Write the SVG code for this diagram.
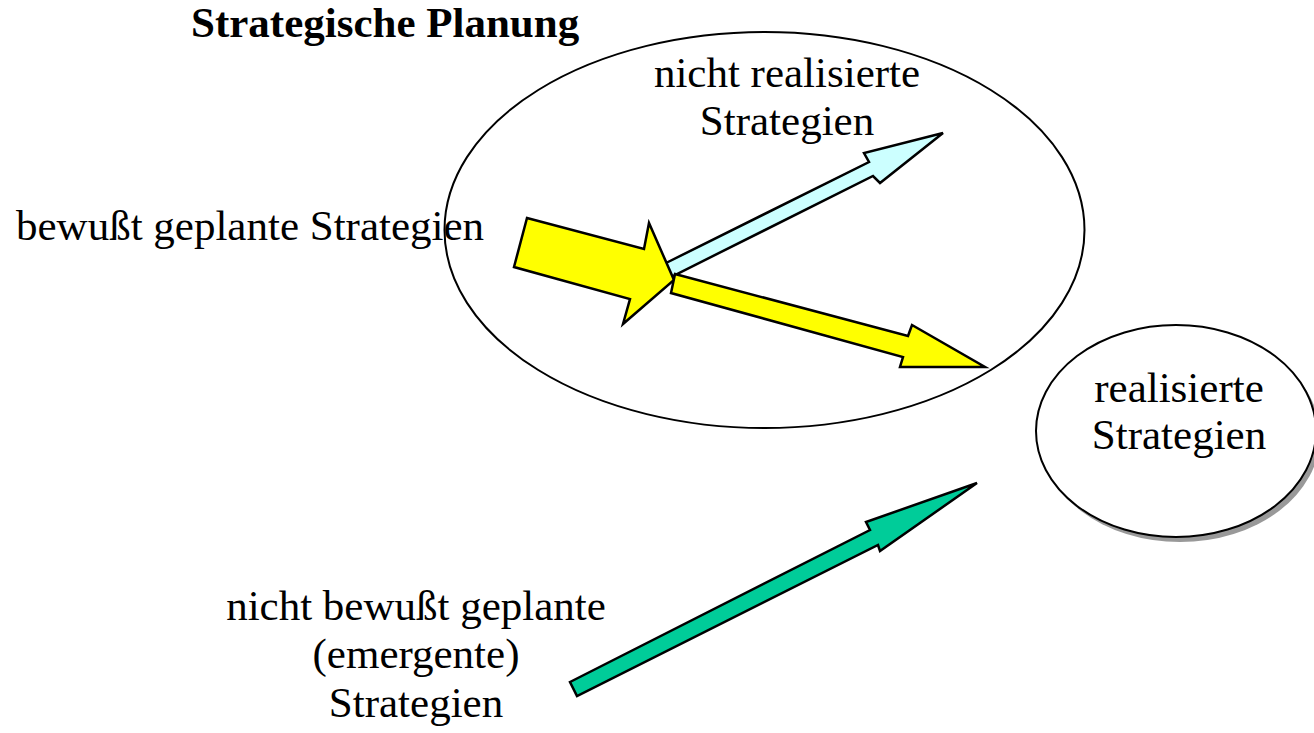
<svg xmlns="http://www.w3.org/2000/svg" width="1314" height="733" viewBox="0 0 1314 733">
  <defs>
    <style>
      .lbl { font-family: "Liberation Serif", "Times New Roman", serif; font-size: 43px; fill: #000; }
      .title { font-family: "Liberation Serif", "Times New Roman", serif; font-size: 43px; font-weight: bold; fill: #000; }
      .outline { fill: #fff; stroke: #000; stroke-width: 2; }
      .arrow { stroke: #000; stroke-width: 2.5; stroke-linejoin: miter; }
    </style>
  </defs>
  <rect width="1314" height="733" fill="#fff"/>

  <!-- planning area -->
  <g id="planung">
    <ellipse class="outline" cx="764.5" cy="230" rx="320" ry="198"/>
    <text class="title" x="191" y="37">Strategische Planung</text>
  </g>

  <!-- realized strategies -->
  <g id="realisiert">
    <ellipse cx="1180" cy="436" rx="140" ry="106" fill="#999"/>
    <ellipse class="outline" cx="1176" cy="431" rx="140" ry="106"/>
    <text class="lbl" x="1179" y="402" text-anchor="middle">realisierte</text>
    <text class="lbl" x="1179" y="449" text-anchor="middle">Strategien</text>
  </g>

  <g id="label-nicht-realisiert">
    <text class="lbl" x="787" y="87" text-anchor="middle">nicht realisierte</text>
    <text class="lbl" x="787" y="135" text-anchor="middle">Strategien</text>
  </g>

  <g id="label-bewusst">
    <text class="lbl" x="16" y="240">bewußt geplante Strategien</text>
  </g>

  <g id="label-emergent">
    <text class="lbl" x="416" y="620" text-anchor="middle">nicht bewußt geplante</text>
    <text class="lbl" x="416" y="668" text-anchor="middle">(emergente)</text>
    <text class="lbl" x="416" y="717" text-anchor="middle">Strategien</text>
  </g>

  <!-- block arrows -->
  <g id="connectors">
    <polygon class="arrow" fill="#ccffff" points="664,264 869,162 864,153 943,133 880,183 873,176 671,277"/>
    <polygon class="arrow" fill="#ffff00" points="527,218 644,249 649,223 674,280 623,324 630,299 514,267"/>
    <polygon class="arrow" fill="#ffff00" points="675,274 908,336 912,325 985,367 900,367 903,357 671,293"/>
    <polygon class="arrow" fill="#00cc99" points="570,682 870,530 866,522 977,483 880,551 878,545 577,696"/>
  </g>
</svg>
